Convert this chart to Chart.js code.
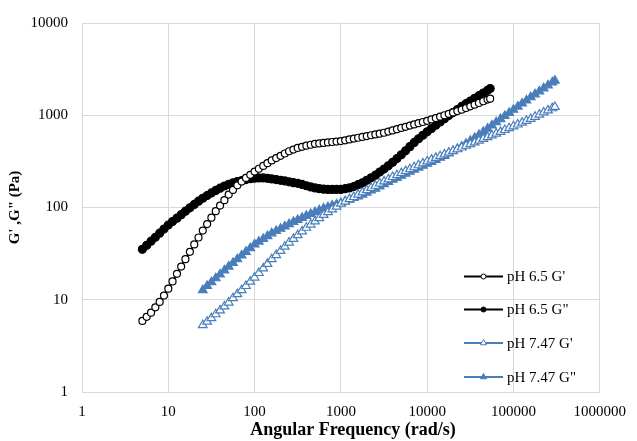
<!DOCTYPE html>
<html>
<head>
<meta charset="utf-8">
<script src="https://cdn.jsdelivr.net/npm/chart.js"></script>
<style>
  html, body { margin: 0; padding: 0; background: #fff; }
  #wrap { width: 637px; height: 441px; }
</style>
</head>
<body>
<div id="wrap"><canvas id="rheoChart" width="637" height="441"></canvas></div>
<script>
// --- data read off the frequency sweep ---
// angular frequency (rad/s), pH 6.5 run
var freq65 = [5.01, 5.62, 6.31, 7.08, 7.94, 8.91,
    10.0, 11.2, 12.6, 14.1, 15.8, 17.8, 20.0, 22.4, 25.1, 28.2, 31.6, 35.5, 39.8, 44.7, 50.1, 56.2, 63.1, 70.8, 79.4, 89.1,
    100, 112, 126, 141, 158, 178, 200, 224, 251, 282, 316, 355, 398, 447, 501, 562, 631, 708, 794, 891,
    1000, 1122, 1259, 1413, 1585, 1778, 1995, 2239, 2512, 2818, 3162, 3548, 3981, 4467, 5012, 5623, 6310, 7079, 7943, 8913,
    10000, 11220, 12590, 14130, 15850, 17780, 19950, 22390, 25120, 28180, 31620, 35480, 39810, 44670, 50120, 53700];
var gPrime65 = [5.89, 6.53, 7.24, 8.28, 9.48, 11.1,
    13.2, 15.8, 19.1, 22.9, 27.5, 33.1, 39.8, 47.3, 56.2, 66.1, 77.6, 91.2, 105, 120, 138, 155, 174, 191, 209, 226,
    245, 263, 282, 302, 324, 343, 363, 385, 407, 425, 442, 455, 468, 479, 490, 495, 501, 507, 513, 519,
    525, 535, 547, 558, 570, 582, 594, 607, 619, 632, 646, 665, 685, 706, 728, 750, 773, 796, 820, 845,
    871, 902, 933, 966, 1000, 1035, 1072, 1109, 1148, 1197, 1250, 1303, 1358, 1419, 1479, 1514];
var gDouble65 = [35.2, 38.9, 43.1, 47.6, 52.7, 58.3,
    64.6, 70.5, 76.7, 83.6, 91.2, 99.1, 108, 117, 126, 135, 144, 153, 162, 171, 178, 185, 191, 196, 201, 205,
    208, 209, 209, 207, 204, 201, 197, 194, 190, 186, 183, 178, 172, 167, 163, 160, 158, 157, 157, 157,
    157, 160, 163, 169, 177, 185, 197, 210, 224, 242, 261, 283, 309, 339, 373, 412, 457, 507, 556, 607,
    661, 718, 780, 847, 918, 991, 1069, 1153, 1245, 1334, 1426, 1524, 1629, 1742, 1862, 1950];

// angular frequency (rad/s), pH 7.47 run
var freq747 = [25.1, 28.2, 31.6, 35.5, 39.8, 44.7, 50.1, 56.2, 63.1, 70.8, 79.4, 89.1,
    100, 112, 126, 141, 158, 178, 200, 224, 251, 282, 316, 355, 398, 447, 501, 562, 631, 708, 794, 891,
    1000, 1122, 1259, 1413, 1585, 1778, 1995, 2239, 2512, 2818, 3162, 3548, 3981, 4467, 5012, 5623, 6310, 7079, 7943, 8913,
    10000, 11220, 12590, 14130, 15850, 17780, 19950, 22390, 25120, 28180, 31620, 35480, 39810, 44670, 50120, 56230, 63100, 70790, 79430, 89130,
    100000, 112200, 125900, 141300, 158500, 177800, 199500, 223900, 251200, 281800, 302000];
var gPrime747 = [5.31, 5.78, 6.31, 6.96, 7.67, 8.46, 9.33, 10.4, 11.5, 12.7, 14.1, 15.7,
    17.4, 19.5, 21.9, 24.5, 27.5, 30.5, 33.9, 37.6, 41.7, 45.7, 50.1, 55.0, 60.3, 65.3, 70.8, 76.7, 83.2, 89.1, 95.5, 102,
    110, 116, 123, 130, 138, 146, 154, 163, 172, 182, 192, 202, 214, 224, 236, 248, 260, 273, 287, 301,
    316, 330, 345, 360, 376, 393, 410, 428, 447, 467, 487, 508, 531, 555, 579, 604, 631, 661, 692, 724,
    759, 794, 832, 871, 912, 962, 1016, 1072, 1130, 1191, 1230];
var gDouble747 = [12.7, 14.1, 15.5, 17.1, 18.8, 20.8, 22.9, 25.1, 27.5, 30.2, 33.1, 36.3,
    39.8, 42.7, 45.7, 49.0, 52.5, 55.6, 58.9, 62.4, 66.1, 69.6, 73.3, 77.2, 81.3, 85.1, 89.1, 93.3, 97.7, 101, 105, 108,
    112, 117, 122, 127, 132, 138, 145, 153, 160, 169, 179, 189, 200, 210, 221, 233, 245, 258, 271, 284,
    299, 313, 329, 346, 363, 385, 407, 432, 457, 491, 528, 568, 610, 661, 716, 776, 841, 910, 983, 1062,
    1148, 1241, 1341, 1449, 1567, 1687, 1816, 1959, 2108, 2270, 2371];

var xTicks = [1, 10, 100, 1000, 10000, 100000, 1000000];
var yTicks = [1, 10, 100, 1000, 10000];
var seriesLabels = ["pH 6.5 G'", 'pH 6.5 G"', "pH 7.47 G'", 'pH 7.47 G"'];

var blue = '#4a7ebb';
var gridColor = '#d9d9d9';
var serif = '"Liberation Serif", "Times New Roman", serif';

function toPoints(xs, ys) {
    return xs.map(function (x, i) { return { x: x, y: ys[i] }; });
}

function makeSeries(label, xs, ys, color, style, filled, radius) {
    return {
        label: label,
        data: toPoints(xs, ys),
        showLine: true,
        borderColor: color,
        borderWidth: 2,
        pointStyle: style,
        pointRadius: radius,
        pointHoverRadius: radius,
        pointBorderWidth: 1.2,
        pointBorderColor: color,
        pointBackgroundColor: filled ? color : '#fff'
    };
}

// small marker for the legend rows
function drawMarker(ctx, style, x, y, r) {
    ctx.beginPath();
    if (style === 'triangle') {
        ctx.moveTo(x, y - r);
        ctx.lineTo(x + r * 0.866, y + r * 0.5);
        ctx.lineTo(x - r * 0.866, y + r * 0.5);
        ctx.closePath();
    } else {
        ctx.arc(x, y, r, 0, Math.PI * 2);
    }
    ctx.fill();
    ctx.stroke();
}

// legend sits inside the plot, no box, gridlines show through
var insideLegend = {
    id: 'insideLegend',
    afterDraw: function (chart) {
        var ctx = chart.ctx;
        var rows = [276.5, 309.5, 343, 377];
        chart.data.datasets.forEach(function (ds, i) {
            var y = rows[i];
            ctx.save();
            ctx.strokeStyle = ds.borderColor;
            ctx.lineWidth = 2;
            ctx.beginPath();
            ctx.moveTo(464, y);
            ctx.lineTo(503, y);
            ctx.stroke();
            ctx.lineWidth = 1;
            ctx.fillStyle = ds.pointBackgroundColor;
            ctx.strokeStyle = ds.pointBorderColor;
            drawMarker(ctx, ds.pointStyle, 483.5, y, ds.pointStyle === 'triangle' ? 3.5 : 2.5);
            ctx.fillStyle = '#000';
            ctx.font = '15px ' + serif;
            ctx.textAlign = 'left';
            ctx.textBaseline = 'middle';
            ctx.fillText(ds.label, 507, y + 1);
            ctx.restore();
        });

        // x axis title (sits a bit right of the plot centre in the original)
        ctx.save();
        ctx.fillStyle = '#000';
        ctx.font = 'bold 18px ' + serif;
        ctx.textAlign = 'center';
        ctx.textBaseline = 'middle';
        ctx.fillText('Angular Frequency (rad/s)', 353, 430);
        ctx.restore();
    }
};

var ctxRheo = document.getElementById('rheoChart');
new Chart(ctxRheo, {
    type: 'scatter',
    data: {
        datasets: [
            makeSeries(seriesLabels[0], freq65, gPrime65, '#000', 'circle', false, 3.5),
            makeSeries(seriesLabels[1], freq65, gDouble65, '#000', 'circle', true, 4),
            makeSeries(seriesLabels[2], freq747, gPrime747, blue, 'triangle', false, 5),
            makeSeries(seriesLabels[3], freq747, gDouble747, blue, 'triangle', true, 5)
        ]
    },
    options: {
        responsive: false,
        animation: false,
        layout: { padding: { left: 0, top: 23, right: 34, bottom: 0 } },
        plugins: { legend: { display: false }, tooltip: { enabled: false } },
        scales: {
            x: {
                type: 'logarithmic', position: 'bottom', min: 1, max: 1000000,
                afterBuildTicks: function (s) { s.ticks = xTicks.map(function (v) { return { value: v }; }); },
                afterFit: function (s) { s.height = 49; },
                grid: { color: gridColor, lineWidth: 1, drawTicks: false },
                border: { color: gridColor },
                ticks: {
                    padding: 11, color: '#000', autoSkip: false, maxRotation: 0,
                    font: { family: serif, size: 15 },
                    callback: function (v) { return String(v); }
                }
            },
            y: {
                type: 'logarithmic', position: 'left', min: 1, max: 10000,
                afterBuildTicks: function (s) { s.ticks = yTicks.map(function (v) { return { value: v }; }); },
                afterFit: function (s) { s.width = 82; },
                grid: { color: gridColor, lineWidth: 1, drawTicks: false },
                border: { color: gridColor },
                ticks: {
                    padding: 14, color: '#000', autoSkip: false,
                    font: { family: serif, size: 15 },
                    callback: function (v) { return String(v); }
                },
                title: {
                    display: true, text: 'G\' ,G" (Pa)', color: '#000',
                    font: { family: serif, size: 15, weight: 'bold' },
                    padding: { top: 6, bottom: 0 }
                }
            }
        }
    },
    plugins: [insideLegend]
});
</script>
</body>
</html>
